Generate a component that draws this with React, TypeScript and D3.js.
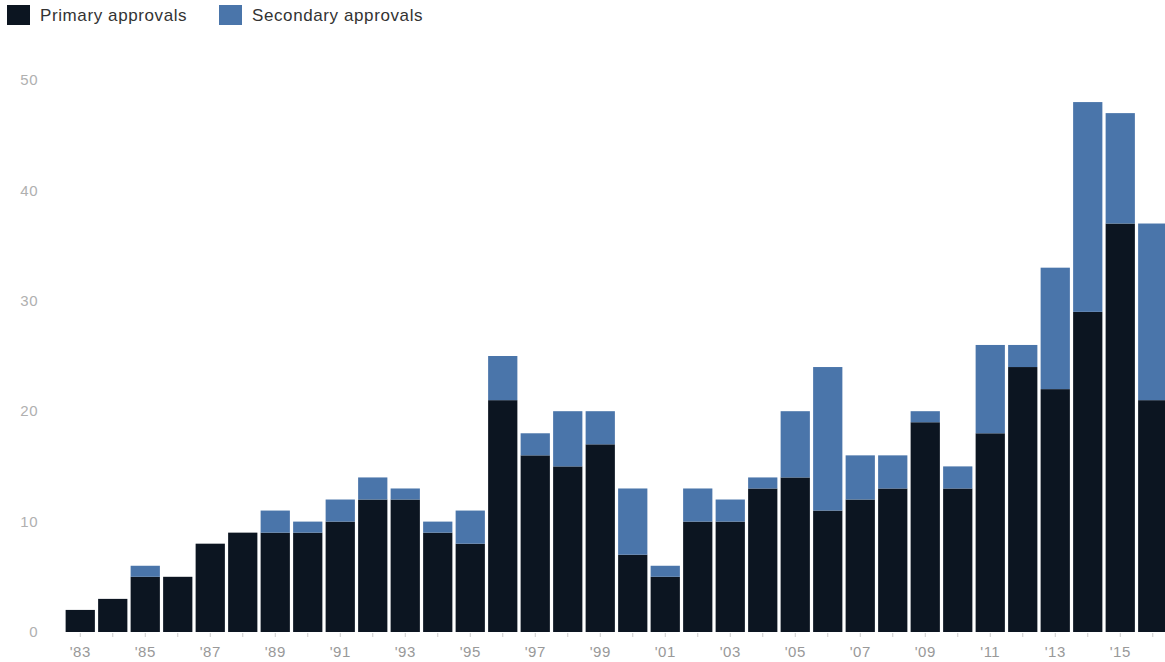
import React from "react";
import * as d3 from "d3";

const years: number[] = [
  1983, 1984, 1985, 1986, 1987, 1988, 1989, 1990, 1991, 1992, 1993, 1994,
  1995, 1996, 1997, 1998, 1999, 2000, 2001, 2002, 2003, 2004, 2005, 2006,
  2007, 2008, 2009, 2010, 2011, 2012, 2013, 2014, 2015, 2016,
];
const primary: number[] = [
  2, 3, 5, 5, 8, 9, 9, 9, 10, 12, 12, 9,
  8, 21, 16, 15, 17, 7, 5, 10, 10, 13, 14, 11,
  12, 13, 19, 13, 18, 24, 22, 29, 37, 21,
];
const secondary: number[] = [
  0, 0, 1, 0, 0, 0, 2, 1, 2, 2, 1, 1,
  3, 4, 2, 5, 3, 6, 1, 3, 2, 1, 6, 13,
  4, 3, 1, 2, 8, 2, 11, 19, 10, 16,
];
const yTicks: number[] = [0, 10, 20, 30, 40, 50];
const seriesNames: string[] = ["Primary approvals", "Secondary approvals"];
const seriesColors: string[] = ["#0c1521", "#4a75aa"];

const W = 1165;
const H = 662;

export default function App() {
  const x = d3
    .scaleBand<number>()
    .domain(years)
    .range([64, 64 + years.length * 32.5])
    .paddingInner(0.1)
    .paddingOuter(0.05);
  const y = d3.scaleLinear().domain([0, 50]).range([632, 80]);

  const rows = years.map((yr, i) => ({ year: yr, p: primary[i], s: secondary[i] }));
  const stack = d3.stack<any>().keys(["p", "s"]);
  const layers = stack(rows);

  const font = "'Liberation Sans', Arial, sans-serif";

  return (
    <svg
      width={W}
      height={H}
      style={{ position: "absolute", left: 0, top: 0, background: "#fff" }}
    >
      {/* legend */}
      {seriesNames.map((name, i) => {
        const lx = i === 0 ? 7 : 219;
        return (
          <g key={name}>
            <rect x={lx} y={5} width={23} height={20} fill={seriesColors[i]} />
            <text
              x={lx + 33}
              y={21}
              fontFamily={font}
              fontSize={17}
              letterSpacing={0.6}
              fill="#333"
            >
              {name}
            </text>
          </g>
        );
      })}

      {/* y axis labels */}
      {yTicks.map((t) => (
        <text
          key={t}
          x={38}
          y={y(t)}
          dy="0.35em"
          textAnchor="end"
          fontFamily={font}
          fontSize={15}
          letterSpacing={0.5}
          fill="#b0b0b0"
        >
          {t}
        </text>
      ))}

      {/* bars */}
      {layers.map((layer, li) => (
        <g key={li} fill={seriesColors[li]}>
          {layer.map((d: any, i: number) => {
            const h = y(d[0]) - y(d[1]);
            if (h <= 0) return null;
            return (
              <rect
                key={i}
                x={x(years[i])}
                y={y(d[1])}
                width={x.bandwidth()}
                height={h}
              />
            );
          })}
        </g>
      ))}

      {/* x ticks */}
      {years.map((yr) => {
        const cx = (x(yr) as number) + x.bandwidth() / 2;
        return (
          <line
            key={yr}
            x1={cx}
            x2={cx}
            y1={633}
            y2={637}
            stroke="#ccc"
            strokeWidth={1}
          />
        );
      })}
      {years
        .filter((yr) => yr % 2 === 1)
        .map((yr) => {
          const cx = (x(yr) as number) + x.bandwidth() / 2;
          return (
            <text
              key={yr}
              x={cx}
              y={652}
              dy="0.35em"
              textAnchor="middle"
              fontFamily={font}
              fontSize={15}
              letterSpacing={0.5}
              fill="#999"
            >
              {"'" + String(yr).slice(2)}
            </text>
          );
        })}
    </svg>
  );
}
